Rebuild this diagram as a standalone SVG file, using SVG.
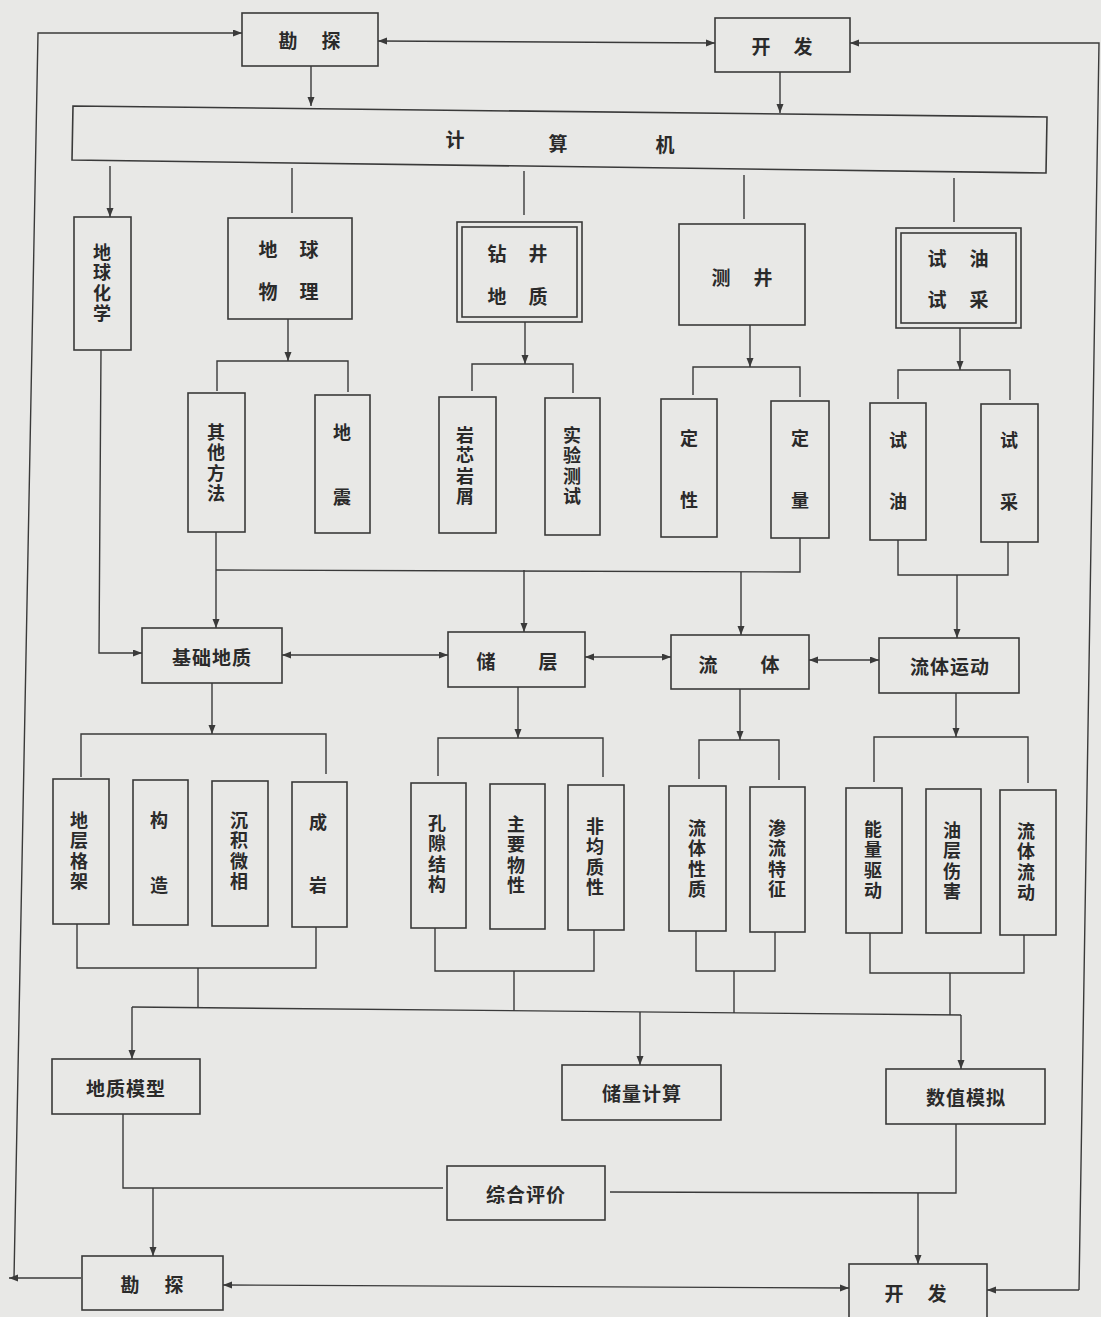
<svg xmlns="http://www.w3.org/2000/svg" width="1101" height="1317" viewBox="0 0 1101 1317">
<defs>
<style>
.b{fill:none;stroke:#3a3a3a;stroke-width:1.6}
.c{fill:none;stroke:#3a3a3a;stroke-width:1.4}
.a{marker-end:url(#ah)}
.d{marker-start:url(#ah);marker-end:url(#ah)}
.t{font-family:"Noto Sans CJK SC","Noto Sans CJK JP",sans-serif;font-size:19px;font-weight:700;fill:#2a2a2a;text-anchor:middle;dominant-baseline:central}
.h{letter-spacing:1px}
.v{font-size:18px;writing-mode:vertical-rl;letter-spacing:2.5px}
</style>
<marker id="ah" markerWidth="10" markerHeight="8" refX="9" refY="3.5" orient="auto-start-reverse" markerUnits="userSpaceOnUse">
<path d="M0,0 L9,3.5 L0,7 Z" fill="#3a3a3a"/>
</marker>
</defs>
<rect x="0" y="0" width="1101" height="1317" fill="#e8e8e6"/>

<g id="connectors">
<path class="c a" d="M14,1278 L38,33 L242,33"/>
<path class="c a" d="M81,1278 L9,1278"/>
<path class="c a" d="M1079,1290 L1099,43 L850,43"/>
<path class="c a" d="M1079,1290 L987,1290"/>
<path class="c d" d="M378,41 L715,43"/>
<path class="c d" d="M223,1285 L849,1288"/>
<path class="c a" d="M311,66 L311,106"/>
<path class="c a" d="M780,72 L780,113"/>
<path class="c a" d="M110,166 L110,217"/>
<path class="c" d="M292,168 L292,213"/>
<path class="c" d="M524,171 L524,215"/>
<path class="c" d="M744,175 L744,219"/>
<path class="c" d="M954,178 L954,222"/>
<path class="c a" d="M288,319 L288,361"/>
<path class="c" d="M217,391 L217,361 L348,361 L348,392"/>
<path class="c a" d="M525,322 L525,364"/>
<path class="c" d="M472,391 L472,364 L573,364 L573,393"/>
<path class="c a" d="M750,325 L750,367"/>
<path class="c" d="M693,395 L693,367 L800,367 L800,397"/>
<path class="c a" d="M960,328 L960,370"/>
<path class="c" d="M898,399 L898,370 L1010,370 L1010,400"/>
<path class="c a" d="M101,350 L99,653 L142,653"/>
<path class="c a" d="M216,532 L216,628"/>
<path class="c" d="M216,570 L800,572 L800,538"/>
<path class="c a" d="M524,570 L524,632"/>
<path class="c a" d="M741,572 L741,635"/>
<path class="c" d="M898,540 L898,575 L1008,575 L1008,542"/>
<path class="c a" d="M957,575 L957,638"/>
<path class="c d" d="M282,655 L448,655"/>
<path class="c d" d="M585,657 L671,657"/>
<path class="c d" d="M809,660 L879,660"/>
<path class="c a" d="M212,683 L212,734"/>
<path class="c" d="M81,777 L81,734 L326,734 L326,774"/>
<path class="c a" d="M518,687 L518,738"/>
<path class="c" d="M438,776 L438,738 L603,738 L603,777"/>
<path class="c a" d="M740,689 L740,740"/>
<path class="c" d="M699,779 L699,740 L779,740 L779,780"/>
<path class="c a" d="M956,693 L956,737"/>
<path class="c" d="M874,782 L874,737 L1028,737 L1028,783"/>
<path class="c" d="M77,924 L77,968 L316,968 L316,927"/>
<path class="c" d="M198,968 L198,1008"/>
<path class="c" d="M435,928 L435,971 L594,971 L594,930"/>
<path class="c" d="M514,971 L514,1011"/>
<path class="c" d="M696,931 L696,971 L775,971 L775,932"/>
<path class="c" d="M734,971 L734,1013"/>
<path class="c" d="M870,933 L870,973 L1024,973 L1024,935"/>
<path class="c" d="M950,973 L950,1015"/>
<path class="c" d="M132,1007 L961,1015"/>
<path class="c a" d="M132,1007 L132,1059"/>
<path class="c a" d="M640,1012 L640,1065"/>
<path class="c a" d="M961,1015 L961,1069"/>
<path class="c" d="M123,1114 L123,1188 L443,1188"/>
<path class="c a" d="M153,1188 L153,1256"/>
<path class="c" d="M610,1192 L956,1193 L956,1124"/>
<path class="c a" d="M918,1193 L918,1264"/>
</g>

<g id="n-kantan-top"><rect class="b" x="242" y="13" width="136" height="53"/><text class="t"><tspan x="288" y="39">勘</tspan><tspan x="331" y="39">探</tspan></text></g>
<g id="n-kaifa-top"><rect class="b" x="715" y="18" width="135" height="54"/><text class="t"><tspan x="761" y="45">开</tspan><tspan x="803" y="45">发</tspan></text></g>
<g id="n-computer"><polygon class="b" points="73,106 1047,117 1046,173 72,160"/><text class="t"><tspan x="455" y="138">计</tspan><tspan x="558" y="142">算</tspan><tspan x="665" y="143">机</tspan></text></g>

<g id="n-geochem"><rect class="b" x="74" y="217" width="57" height="133"/><text class="t v" x="102" y="284">地球化学</text></g>
<g id="n-geophys"><rect class="b" x="228" y="218" width="124" height="101"/><text class="t"><tspan x="268" y="248">地</tspan><tspan x="309" y="248">球</tspan><tspan x="268" y="290">物</tspan><tspan x="309" y="290">理</tspan></text></g>
<g id="n-drillgeo"><rect class="b" x="457" y="222" width="125" height="100"/><rect class="b" x="462" y="227" width="115" height="90"/><text class="t"><tspan x="497" y="252">钻</tspan><tspan x="538" y="252">井</tspan><tspan x="497" y="295">地</tspan><tspan x="538" y="295">质</tspan></text></g>
<g id="n-logging"><rect class="b" x="679" y="224" width="126" height="101"/><text class="t"><tspan x="721" y="276">测</tspan><tspan x="763" y="276">井</tspan></text></g>
<g id="n-welltest"><rect class="b" x="896" y="228" width="125" height="100"/><rect class="b" x="901" y="233" width="115" height="90"/><text class="t"><tspan x="937" y="257">试</tspan><tspan x="979" y="257">油</tspan><tspan x="937" y="298">试</tspan><tspan x="979" y="298">采</tspan></text></g>

<g id="n-other"><rect class="b" x="188" y="393" width="57" height="139"/><text class="t v" x="216" y="464">其他方法</text></g>
<g id="n-seismic"><rect class="b" x="315" y="395" width="55" height="138"/><text class="t v" x="342" y="488" style="letter-spacing:47px">地震</text></g>
<g id="n-core"><rect class="b" x="439" y="397" width="57" height="136"/><text class="t v" x="465" y="467">岩芯岩屑</text></g>
<g id="n-lab"><rect class="b" x="545" y="398" width="55" height="137"/><text class="t v" x="572" y="467">实验测试</text></g>
<g id="n-qual"><rect class="b" x="661" y="399" width="56" height="138"/><text class="t v" x="689" y="491" style="letter-spacing:44px">定性</text></g>
<g id="n-quant"><rect class="b" x="771" y="401" width="58" height="137"/><text class="t v" x="800" y="491" style="letter-spacing:44px">定量</text></g>
<g id="n-testoil"><rect class="b" x="870" y="403" width="56" height="137"/><text class="t v" x="898" y="492" style="letter-spacing:43px">试油</text></g>
<g id="n-testprod"><rect class="b" x="981" y="404" width="57" height="138"/><text class="t v" x="1009" y="493" style="letter-spacing:44px">试采</text></g>

<g id="n-basegeo"><rect class="b" x="142" y="628" width="140" height="55"/><text class="t h" x="212" y="656">基础地质</text></g>
<g id="n-reservoir"><rect class="b" x="448" y="632" width="137" height="55"/><text class="t"><tspan x="486" y="660">储</tspan><tspan x="548" y="660">层</tspan></text></g>
<g id="n-fluid"><rect class="b" x="671" y="635" width="138" height="54"/><text class="t"><tspan x="708" y="663">流</tspan><tspan x="770" y="663">体</tspan></text></g>
<g id="n-fluidmove"><rect class="b" x="879" y="638" width="140" height="55"/><text class="t h" x="950" y="665">流体运动</text></g>

<g id="n-strat"><rect class="b" x="53" y="779" width="56" height="145"/><text class="t v" x="79" y="852">地层格架</text></g>
<g id="n-struct"><rect class="b" x="133" y="780" width="55" height="145"/><text class="t v" x="159" y="876" style="letter-spacing:47px">构造</text></g>
<g id="n-facies"><rect class="b" x="212" y="781" width="56" height="145"/><text class="t v" x="239" y="852">沉积微相</text></g>
<g id="n-diag"><rect class="b" x="292" y="782" width="55" height="145"/><text class="t v" x="318" y="876" style="letter-spacing:45px">成岩</text></g>
<g id="n-pore"><rect class="b" x="411" y="783" width="55" height="145"/><text class="t v" x="437" y="855">孔隙结构</text></g>
<g id="n-props"><rect class="b" x="490" y="784" width="55" height="145"/><text class="t v" x="516" y="856">主要物性</text></g>
<g id="n-hetero"><rect class="b" x="568" y="785" width="56" height="145"/><text class="t v" x="595" y="858">非均质性</text></g>
<g id="n-fluidprop"><rect class="b" x="669" y="786" width="57" height="145"/><text class="t v" x="697" y="860">流体性质</text></g>
<g id="n-seepage"><rect class="b" x="750" y="787" width="55" height="145"/><text class="t v" x="777" y="860">渗流特征</text></g>
<g id="n-drive"><rect class="b" x="846" y="788" width="56" height="145"/><text class="t v" x="873" y="861">能量驱动</text></g>
<g id="n-damage"><rect class="b" x="926" y="789" width="55" height="144"/><text class="t v" x="952" y="862">油层伤害</text></g>
<g id="n-flow"><rect class="b" x="1000" y="790" width="56" height="145"/><text class="t v" x="1026" y="863">流体流动</text></g>

<g id="n-geomodel"><rect class="b" x="52" y="1059" width="148" height="55"/><text class="t h" x="126" y="1087">地质模型</text></g>
<g id="n-reserves"><rect class="b" x="562" y="1065" width="159" height="55"/><text class="t h" x="642" y="1092">储量计算</text></g>
<g id="n-numsim"><rect class="b" x="886" y="1069" width="159" height="55"/><text class="t h" x="966" y="1096">数值模拟</text></g>
<g id="n-eval"><rect class="b" x="447" y="1166" width="158" height="54"/><text class="t h" x="526" y="1193">综合评价</text></g>
<g id="n-kantan-bot"><rect class="b" x="82" y="1256" width="141" height="54"/><text class="t"><tspan x="130" y="1283">勘</tspan><tspan x="174" y="1283">探</tspan></text></g>
<g id="n-kaifa-bot"><rect class="b" x="849" y="1264" width="138" height="60"/><text class="t"><tspan x="894" y="1292">开</tspan><tspan x="937" y="1292">发</tspan></text></g>
</svg>
